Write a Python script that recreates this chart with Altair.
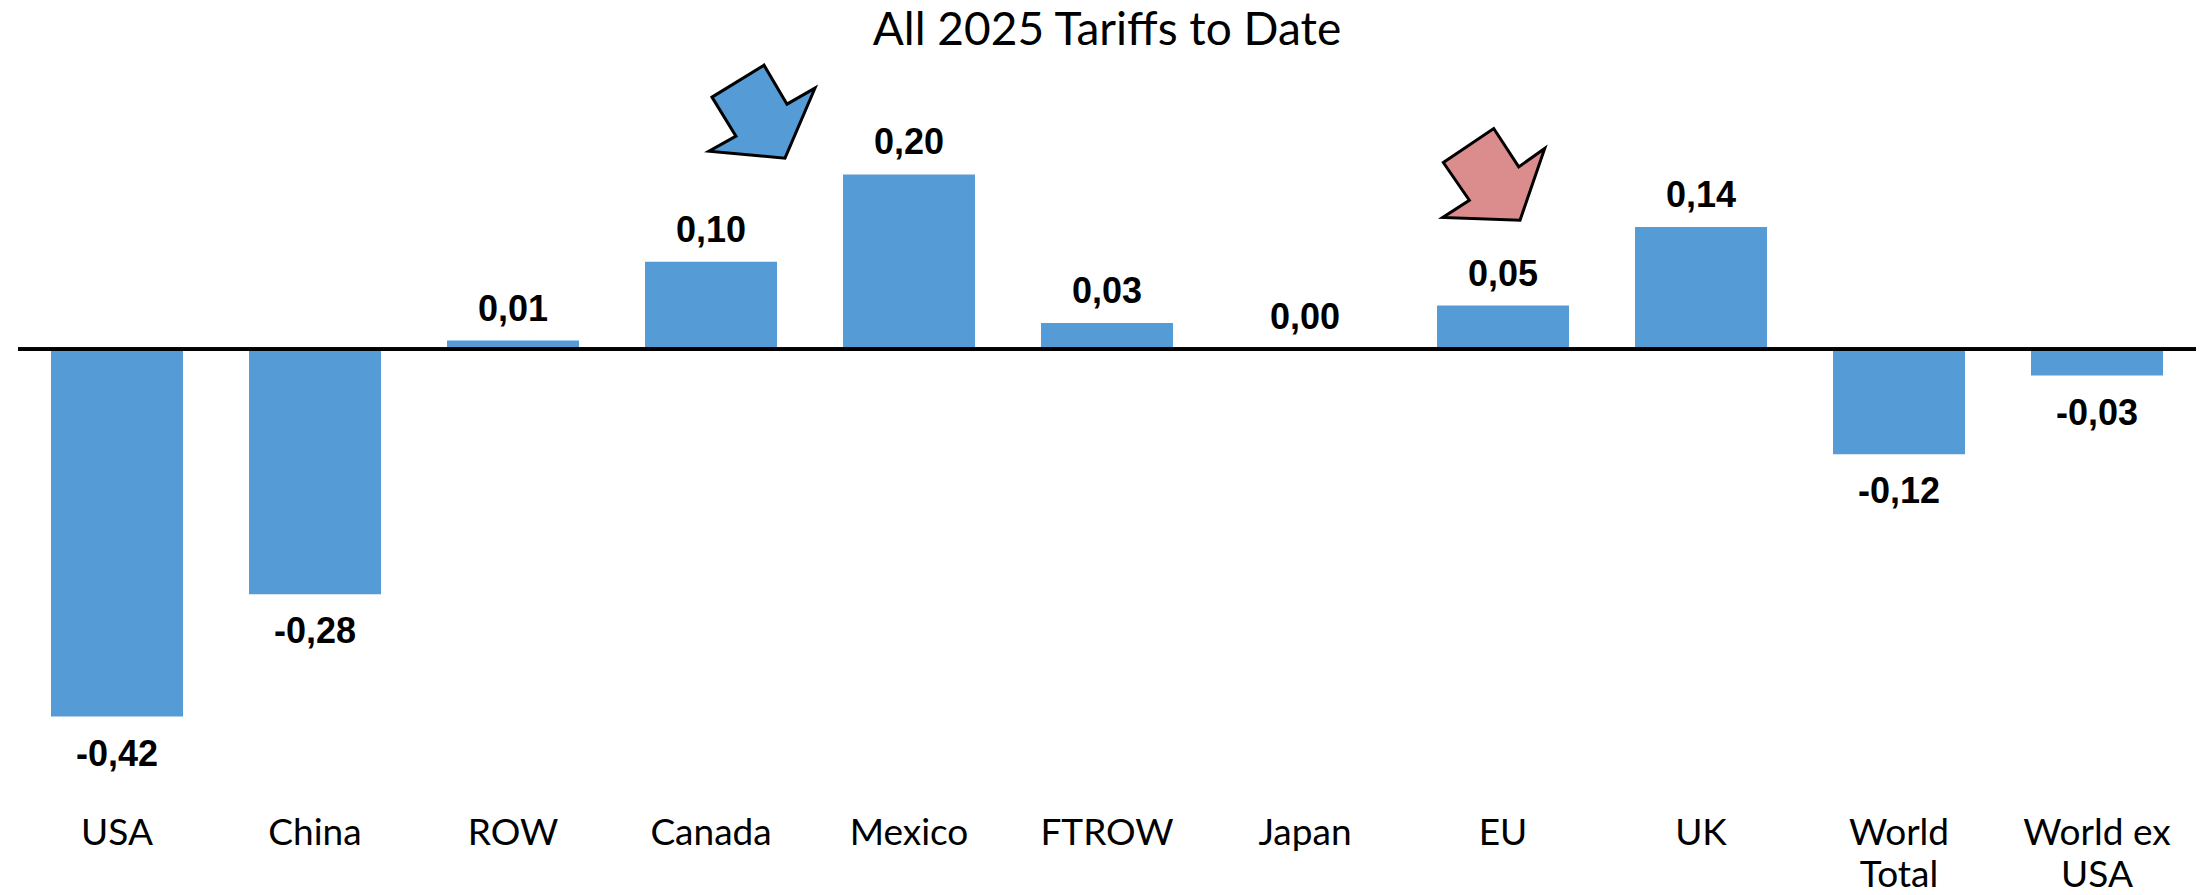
import altair as alt
import pandas as pd

# Change by region, all 2025 tariffs to date
regions = ["USA", "China", "ROW", "Canada", "Mexico", "FTROW", "Japan", "EU", "UK",
           "World\nTotal", "World ex\nUSA"]
values = [-0.42, -0.28, 0.01, 0.10, 0.20, 0.03, 0.00, 0.05, 0.14, -0.12, -0.03]

# Callout arrows: region they sit in, height on the value scale, fill colour
arrow_regions = ["Canada", "EU"]
arrow_levels = [0.2716, 0.200]
arrow_colors = ["#559BD5", "#DB8D8D"]
# Arrow outlines in symbol units (shifted sideways from the band centre)
arrow_paths = [
    "M0.019,-0.277 L1.0,-0.881 L1.434,-0.145 L1.962,-0.447 L1.396,0.874 L-0.038,0.742 L0.471,0.458 Z",
    "M-1.126,-0.225 L-0.175,-0.866 L0.297,-0.142 L0.787,-0.489 L0.321,0.864 L-1.137,0.813 L-0.635,0.487 Z",
]

BAR_COLOR = "#559BD5"
LABEL_FONT = "Lato"
VALUE_FONT = "Liberation Sans"
Y_DOMAIN = [-0.48, 0.30]

df = pd.DataFrame({"region": regions, "value": values})

x_enc = alt.X(
    "region:N",
    sort=regions,
    scale=alt.Scale(paddingInner=1 / 3, paddingOuter=1 / 6),
    axis=alt.Axis(
        title=None, domain=False, ticks=False, grid=False,
        labelAngle=0, labelFont=LABEL_FONT, labelFontSize=37, labelColor="#000000",
        labelPadding=46, labelLineHeight=42, labelExpr="split(datum.label, '\\n')",
    ),
)
y_enc = alt.Y("value:Q", scale=alt.Scale(domain=Y_DOMAIN), axis=None)

base = alt.Chart(df)

bars = base.mark_bar(color=BAR_COLOR).encode(x=x_enc, y=y_enc)

fmt = "replace(replace(format(datum.value, '.2f'), '.', ','), '\u2212', '-')"
labels_base = base.transform_calculate(label=fmt)

pos_labels = labels_base.transform_filter("datum.value >= 0").mark_text(
    font=VALUE_FONT, fontSize=36, fontWeight="bold", color="#000000",
    baseline="alphabetic", dy=-20,
).encode(x=x_enc, y=y_enc, text="label:N")

neg_labels = labels_base.transform_filter("datum.value < 0").mark_text(
    font=VALUE_FONT, fontSize=36, fontWeight="bold", color="#000000",
    baseline="alphabetic", dy=49,
).encode(x=x_enc, y=y_enc, text="label:N")

# Horizontal zero line across the whole plot
zero_line = base.transform_calculate(zero="0").mark_rule(
    color="#000000", strokeWidth=3
).encode(y=alt.Y("zero:Q", scale=alt.Scale(domain=Y_DOMAIN), axis=None))

arrow_layers = []
for reg, lvl, col, path in zip(arrow_regions, arrow_levels, arrow_colors, arrow_paths):
    arrow_df = pd.DataFrame({"region": [reg], "value": [lvl]})
    arrow_layers.append(
        alt.Chart(arrow_df).mark_point(
            shape=path, filled=True, fill=col, stroke="#000000", strokeWidth=3,
            opacity=1, fillOpacity=1, size=11236,
        ).encode(x=x_enc, y=y_enc)
    )

chart = alt.layer(bars, zero_line, pos_labels, neg_labels, *arrow_layers).properties(
    width=2178,
    height=682,
    title=alt.TitleParams(
        "All 2025 Tariffs to Date", font=LABEL_FONT, fontSize=46, fontWeight="normal",
        color="#000000", anchor="middle", offset=4,
    ),
    background="#ffffff",
    autosize=alt.AutoSizeParams(type="none"),
    padding={"left": 18, "top": 87, "right": 8, "bottom": 126},
).configure_view(stroke=None)

chart.save("out.html", embed_options={"renderer": "svg", "actions": False})
